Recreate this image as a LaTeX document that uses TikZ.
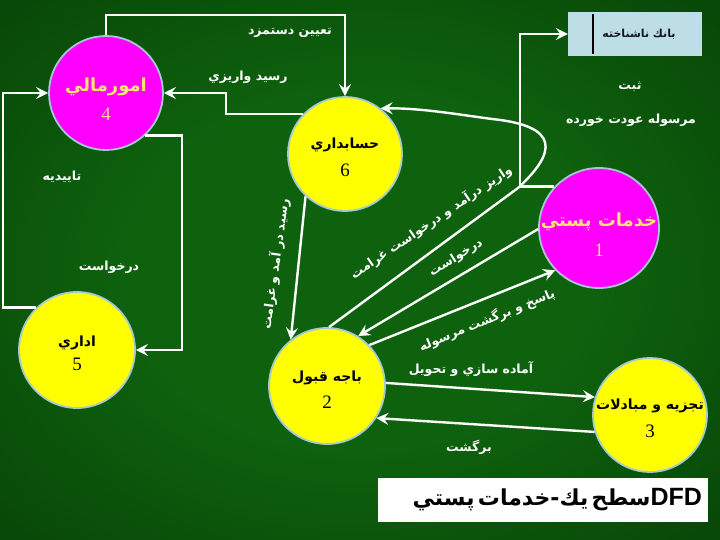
\documentclass[tikz,border=0pt]{standalone}
\usepackage{fontspec}
\setmainfont{Liberation Serif}
\newfontfamily\arfont[Script=Arabic]{DejaVu Sans}
\newfontfamily\lsans{Liberation Sans}
\TeXXeTstate=1
\usetikzlibrary{arrows.meta}
\definecolor{bgin}{RGB}{14,98,14}
\definecolor{bgout}{RGB}{0,36,0}
\definecolor{mag}{RGB}{255,0,255}
\definecolor{yel}{RGB}{255,255,0}
\definecolor{rim}{RGB}{165,200,210}
\definecolor{magtext}{RGB}{255,228,110}
\definecolor{magnum}{RGB}{255,215,160}
\definecolor{bankfill}{RGB}{190,222,230}
\definecolor{banktext}{RGB}{20,20,40}
\pgfdeclareradialshading{bgshade}{\pgfpoint{0bp}{0bp}}{color(0bp)=(bgin); color(16bp)=(bgin); color(60bp)=(bgout); color(72bp)=(bgout)}
\newcommand\AR[1]{{\arfont\beginR #1\endR}}
\newcommand\namefont{\arfont\bfseries\fontsize{14}{16}\selectfont}
\newcommand\bignamefont{\arfont\bfseries\fontsize{18}{20}\selectfont}
\newcommand\numfont{\fontsize{19}{21}\selectfont}
\begin{document}
\begin{tikzpicture}[x=1pt,y=-1pt,
  proc/.style={circle, draw=rim, line width=1.8pt, minimum size=114pt, inner sep=0pt},
  ptext/.style={align=center, inner sep=0pt},
  flow/.style={draw=white, line width=2.4pt, -{Stealth[length=12pt,width=12pt,inset=4.5pt]}},
  lab/.style={text=white, font=\arfont\bfseries\fontsize{12.5}{14}\selectfont, inner sep=0pt}]
\shade[shading=bgshade] (0,0) rectangle (720,540);
\useasboundingbox (0,0) rectangle (720,540);

% processes
\node[proc, fill=mag] (c4) at (106,93) {};
\node[proc, fill=yel] (c6) at (345,154) {};
\node[proc, fill=mag, minimum size=120pt] (c1) at (599,228) {};
\node[proc, fill=yel, minimum size=116pt] (c5) at (77,350) {};
\node[proc, fill=yel, minimum size=116pt] (c2) at (327,386) {};
\node[proc, fill=yel] (c3) at (650,415) {};

\node[ptext] (t4) at (106,99) {\textcolor{magtext}{\bignamefont\AR{امورمالي}}\\[11pt]\textcolor{magnum}{\numfont 4}};
\node[ptext] (t6) at (345,157) {{\namefont\AR{حسابداري}}\\[11pt]{\numfont 6}};
\node[ptext] (t1) at (599,235) {\textcolor{magtext}{\bignamefont\AR{خدمات پستي}}\\[12pt]\textcolor{magnum}{\numfont 1}};
\node[ptext] (t5) at (77,353.5) {{\namefont\AR{اداري}}\\[7pt]{\numfont 5}};
\node[ptext] (t2) at (327,389.5) {{\namefont\AR{باجه قبول}}\\[10pt]{\numfont 2}};
\node[ptext] (t3) at (650,418.5) {{\namefont\AR{تجزيه و مبادلات}}\\[11pt]{\numfont 3}};

% data store
\node[fill=bankfill, minimum width=134pt, minimum height=44pt, inner sep=0pt,
      text=banktext, font=\arfont\bfseries\fontsize{11}{13}\selectfont] (bank) at (635,34) {\hspace*{8pt}\AR{بانك ناشناخته}};
\draw[line width=2pt, black] ([xshift=25pt,yshift=-2pt]bank.north west) -- ([xshift=25pt,yshift=2pt]bank.south west);

% title
\node[fill=white, minimum width=330pt, minimum height=44pt, inner sep=0pt, text width=318pt, align=right] (title) at (543,500)
  {\beginR{\lsans\bfseries\fontsize{25}{28}\selectfont\beginL DFD\endL}{\arfont\bfseries\fontsize{22}{26}\selectfont سطح يك-خدمات پستي}\endR};

% bend points
\coordinate (k2) at (226,93);
\coordinate (k3) at (3,93);
\coordinate (k4) at (182,350);
\coordinate (k11) at (520,34);
\coordinate (kc) at (518,188);

% flows
\draw[flow] (c4.north) -- ++(0,-20) -| (c6.north);
\draw[flow] (c6.136) -| (k2) -- (c4.east);
\draw[flow] (c5.134) -| (k3) -- (c4.west);
\draw[flow] (c4.-47) -| (k4) -- (c5.east);
\draw[flow] (c6.227) -- (c2.128);
\draw[flow] (c2.88) -- (kc) .. controls (557,152) and (560,126) .. (492,119) .. controls (455,114) and (420,108) .. (c6.52);
\draw[flow] (c1.181) -- (c2.58);
\draw[flow] (c2.44) -- (c1.224);
\draw[flow] (c2.3) -- (c3.162);
\draw[flow] (c3.197) -- (c2.-33);
\draw[flow] (c1.137) -| (k11) -- (bank.west);

% labels
\node[lab] (l46) at (290,33) {\AR{تعيين دستمزد}};
\node[lab] (l64) at (248,77) {\AR{رسيد واريزي}};
\node[lab] (l54) at (62,177) {\AR{تاييديه}};
\node[lab] (l45) at (109,267) {\AR{درخواست}};
\node[lab, rotate=82] (l62) at (275,264) {\AR{رسيد در آمد و غرامت}};
\node[lab, rotate=34] (l26) at (431,222) {\AR{واريز درآمد و درخواست غرامت}};
\node[lab, rotate=32] (l12) at (456,258) {\AR{درخواست}};
\node[lab, rotate=22] (l21) at (487,320) {\AR{پاسخ و برگشت مرسوله}};
\node[lab] (l23) at (471,369) {\AR{آماده سازي و تحويل}};
\node[lab] (l32) at (469,447) {\AR{برگشت}};
\node[lab] (l1a) at (630,87) {\AR{ثبت}};
\node[lab] (l1b) at (631,120) {\AR{مرسوله عودت خورده}};
\end{tikzpicture}
\end{document}
